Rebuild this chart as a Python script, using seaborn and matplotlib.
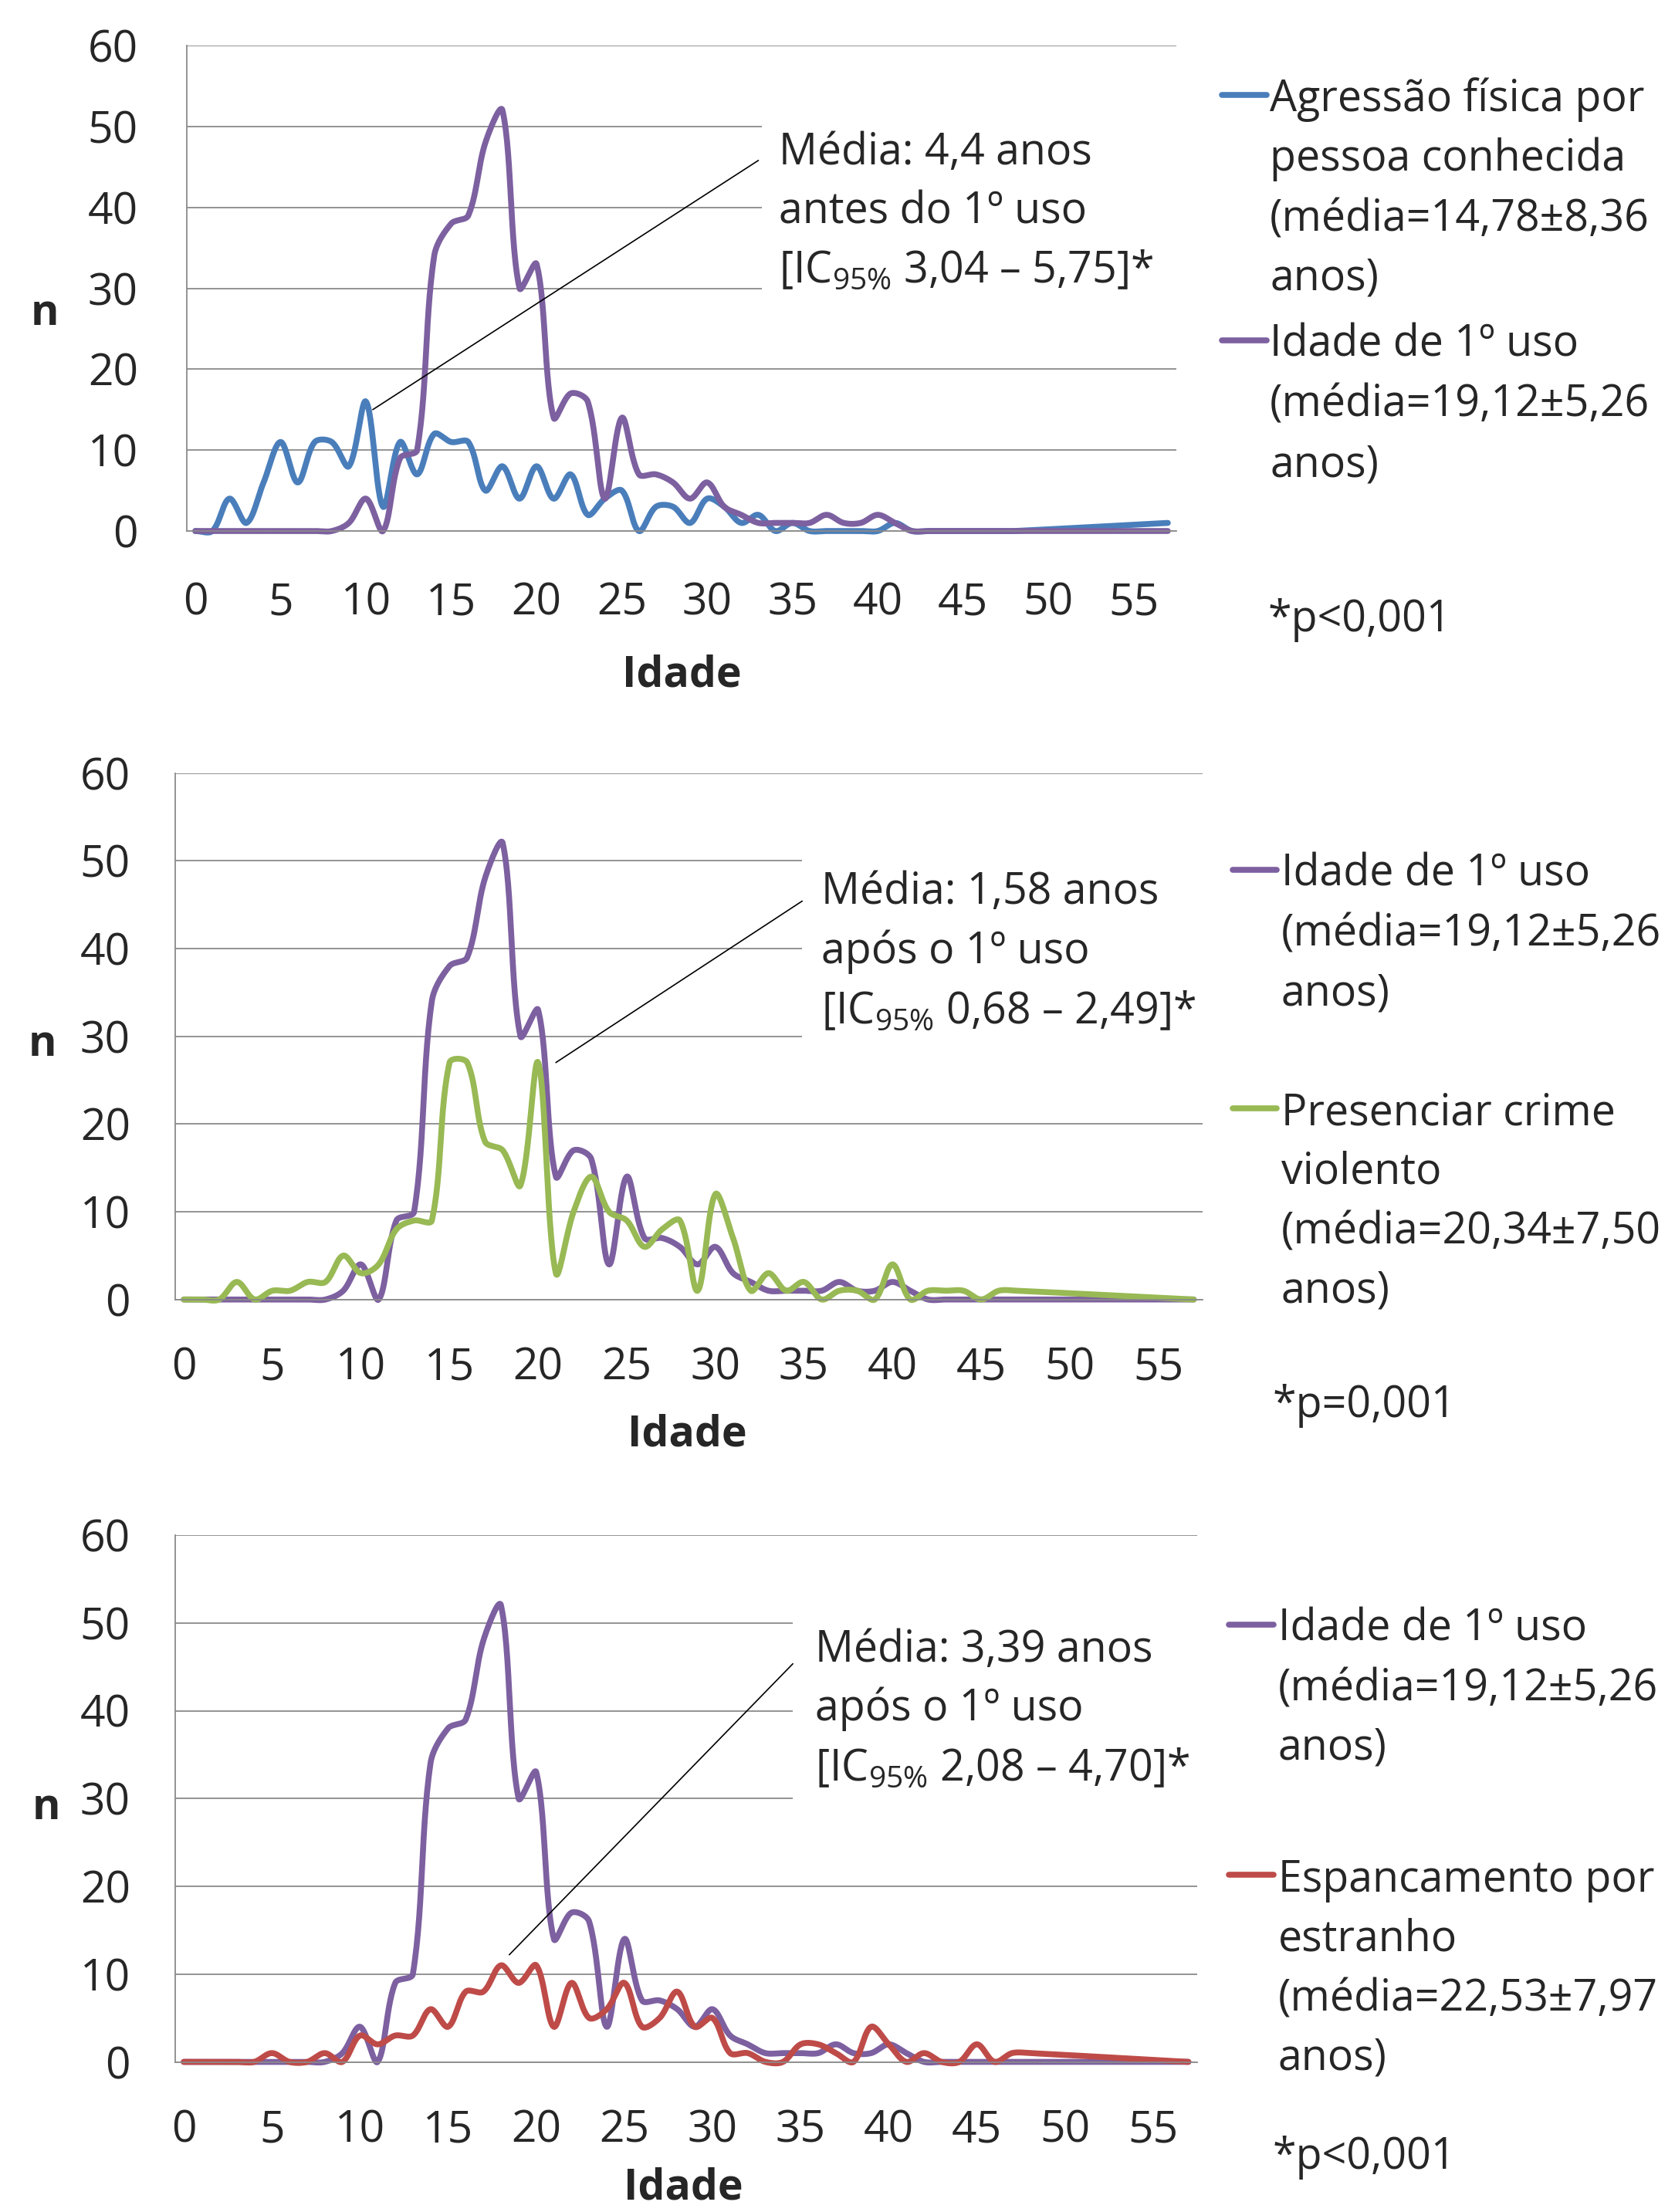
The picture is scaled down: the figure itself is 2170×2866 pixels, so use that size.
import numpy as np
import pandas as pd
import matplotlib
matplotlib.use("Agg")
import matplotlib.pyplot as plt
from matplotlib.lines import Line2D
from matplotlib.patches import Rectangle
import seaborn as sns

nan = np.nan

# ages 0..57 (one category per year)
ages = list(range(58))
tick_ages = list(range(0, 56, 5))
tick_labels = [str(a) for a in tick_ages]
y_ticks = list(range(0, 61, 10))

idade_1o_uso = [0, 0, 0, 0, 0, 0, 0, 0, 0, 1, 4, 0, 9, 10, 34, 38, 39, 48, 52, 30,
                33, 14, 17, 16, 4, 14, 7, 7, 6, 4, 6, 3, 2, 1, 1, 1, 1, 2, 1, 1,
                2, 1, 0, 0, 0, 0, 0, 0, 0, 0, 0, 0, 0, 0, 0, 0, 0, 0]

agressao_conhecida = [0, 0, 4, 1, 6, 11, 6, 11, 11, 8, 16, 3, 11, 7, 12, 11, 11, 5, 8, 4,
                      8, 4, 7, 2, 4, 5, 0, 3, 3, 1, 4, 3, 1, 2, 0, 1, 0, 0, 0, 0,
                      0, 1, 0, 0, 0, 0, 0, 0, 0, nan, nan, nan, nan, nan, nan, nan, nan, 1]

presenciar_crime = [0, 0, 0, 2, 0, 1, 1, 2, 2, 5, 3, 4, 8, 9, 9, 27, 27, 18, 17, 13,
                    27, 3, 10, 14, 10, 9, 6, 8, 9, 1, 12, 7, 1, 3, 1, 2, 0, 1, 1, 0,
                    4, 0, 1, 1, 1, 0, 1, 1, nan, nan, nan, nan, nan, nan, nan, nan, nan, 0]

espancamento_estranho = [0, 0, 0, 0, 0, 1, 0, 0, 1, 0, 3, 2, 3, 3, 6, 4, 8, 8, 11, 9,
                         11, 4, 9, 5, 6, 9, 4, 5, 8, 4, 5, 1, 1, 0, 0, 2, 2, 1, 0, 4,
                         2, 0, 1, 0, 0, 2, 0, 1, 1, nan, nan, nan, nan, nan, nan, nan, nan, 0]

C_BLUE = "#4A7EBB"
C_PURPLE = "#7D60A0"
C_GREEN = "#98B954"
C_RED = "#BE4B48"
C_GRID = "#8A8A8A"

W, H = 2170, 2866
sns.set_style("white")
plt.rcParams["font.family"] = ["Open Sans", "DejaVu Sans"]
plt.rcParams["mathtext.fontset"] = "custom"
plt.rcParams["mathtext.rm"] = "Open Sans"
plt.rcParams["mathtext.it"] = "Open Sans:italic"
plt.rcParams["mathtext.bf"] = "Open Sans:bold"

TXT = 40
TICK = 41
LABEL = 40
LW = 5.5
plt.rcParams["lines.linewidth"] = LW


def excel_smooth(xs, ys, sx=22.5, sy=11.0, n=30):
    """Bezier smoothing close to Excel's 'smoothed line' option."""
    xs = np.asarray(xs, float)
    ys = np.asarray(ys, float)
    keep = ~np.isnan(ys)
    pts = np.column_stack([xs[keep] * sx, ys[keep] * sy])
    t = np.linspace(0, 1, n)[:, None]
    out = []
    for k in range(len(pts) - 1):
        p0 = pts[k - 1] if k > 0 else pts[k]
        p1, p2 = pts[k], pts[k + 1]
        p3 = pts[k + 2] if k + 2 < len(pts) else pts[k + 1]
        d01 = np.linalg.norm(p1 - p0)
        d12 = np.linalg.norm(p2 - p1)
        d23 = np.linalg.norm(p3 - p2)
        w1 = 2 * d12 / (d01 + d12) if d01 + d12 > 0 else 1
        w2 = 2 * d12 / (d12 + d23) if d12 + d23 > 0 else 1
        c1 = p1 + w1 * (p2 - p0) / 6
        c2 = p2 - w2 * (p3 - p1) / 6
        seg = ((1 - t) ** 3) * p1 + 3 * ((1 - t) ** 2) * t * c1 + 3 * (1 - t) * t ** 2 * c2 + t ** 3 * p2
        out.append(seg if k == 0 else seg[1:])
    out = np.vstack(out)
    return pd.DataFrame({"x": out[:, 0] / sx, "y": out[:, 1] / sy})


def fx(x):
    return x / W


def fy(y):
    return 1 - y / H


fig = plt.figure(figsize=(W / 100, H / 100), dpi=100)


def make_panel(rect, series, ypad, xpad, box_x0, leader):
    ax = fig.add_axes(rect)
    ax.set_xlim(0, 58)
    ax.set_ylim(0, 60)
    ax.set_axisbelow(True)
    ax.yaxis.grid(True, color=C_GRID, lw=1.3)
    ax.xaxis.grid(False)
    for s in ["top", "right"]:
        ax.spines[s].set_visible(False)
    for s in ["left", "bottom"]:
        ax.spines[s].set_color(C_GRID)
        ax.spines[s].set_linewidth(1.3)
    ax.set_yticks(y_ticks)
    ax.set_yticklabels([str(v) for v in y_ticks])
    ax.set_xticks(tick_ages)
    ax.set_xticklabels([])
    ax.set_xticks([a + 0.5 for a in tick_ages], minor=True)
    ax.set_xticklabels(tick_labels, minor=True)
    ax.tick_params(axis="y", which="major", length=15.5, width=1.3, color=C_GRID,
                   labelsize=TICK, pad=ypad)
    ax.tick_params(axis="x", which="major", length=15, width=1.3, color=C_GRID)
    ax.tick_params(axis="x", which="minor", length=0, labelsize=TICK, pad=xpad)

    # white box behind the annotation text
    ax.add_patch(Rectangle((box_x0, 22), 58 - box_x0, 34, facecolor="white",
                           edgecolor="none", zorder=1))

    for vals, color in series:
        df = excel_smooth(np.array(ages) + 0.5, vals)
        sns.lineplot(data=df, x="x", y="y", ax=ax, color=color, linewidth=LW, sort=False,
                     estimator=None, solid_capstyle="round", solid_joinstyle="round",
                     zorder=2, clip_on=False)
    ax.set_xlabel("")
    ax.set_ylabel("")
    (x0, y0), (x1, y1) = leader
    ax.plot([x0, x1], [y0, y1], color="black", lw=1.2, zorder=3)
    return ax


def text_lines(x, baselines, lines, **kw):
    for yb, s in zip(baselines, lines):
        fig.text(fx(x), fy(yb), s, ha="left", va="baseline", fontsize=TXT, **kw)


def legend_entry(x0, x1, y, color):
    fig.add_artist(Line2D([fx(x0), fx(x1)], [fy(y), fy(y)], color=color, lw=LW,
                          solid_capstyle="round", transform=fig.transFigure))


def axis_titles(n_xy, idade_xy):
    fig.text(fx(n_xy[0]), fy(n_xy[1]), "n", ha="center", va="baseline",
             fontsize=LABEL, fontweight="bold")
    fig.text(fx(idade_xy[0]), fy(idade_xy[1]), "Idade", ha="center", va="baseline",
             fontsize=LABEL, fontweight="bold")


# ---------------- panel 1 ----------------
make_panel([242 / W, fy(688), (1524 - 242) / W, (688 - 59) / H],
           [(agressao_conhecida, C_BLUE), (idade_1o_uso, C_PURPLE)],
           ypad=30, xpad=47, box_x0=33.7,
           leader=((10.9, 15.0), (33.5, 45.8)))
text_lines(1009, [213, 290, 366],
           ["Média: 4,4 anos", "antes do 1º uso", r"[IC$_{\mathrm{95\%}}$ 3,04 – 5,75]*"])
legend_entry(1583, 1641, 123, C_BLUE)
legend_entry(1583, 1641, 441, C_PURPLE)
text_lines(1645, [144, 221, 299, 376, 462, 540, 617],
           ["Agressão física por", "pessoa conhecida", "(média=14,78±8,36", "anos)",
            "Idade de 1º uso", "(média=19,12±5,26", "anos)"])
text_lines(1643, [818], ["*p<0,001"])
axis_titles((58, 421), (883, 890))

# ---------------- panel 2 ----------------
make_panel([226.6 / W, fy(1683.7), (1558 - 226.6) / W, (1683.7 - 1001.5) / H],
           [(idade_1o_uso, C_PURPLE), (presenciar_crime, C_GREEN)],
           ypad=26, xpad=44, box_x0=35.4,
           leader=((21.5, 27.0), (35.4, 45.4)))
text_lines(1064, [1171, 1248, 1326],
           ["Média: 1,58 anos", "após o 1º uso", r"[IC$_{\mathrm{95\%}}$ 0,68 – 2,49]*"])
legend_entry(1597, 1654, 1127, C_PURPLE)
legend_entry(1597, 1654, 1436, C_GREEN)
text_lines(1660, [1148, 1225, 1302, 1457, 1534, 1611, 1688],
           ["Idade de 1º uso", "(média=19,12±5,26", "anos)",
            "Presenciar crime", "violento", "(média=20,34±7,50", "anos)"])
text_lines(1649, [1836], ["*p=0,001"])
axis_titles((55, 1368), (890, 1874))

# ---------------- panel 3 ----------------
make_panel([226.6 / W, fy(2671.5), (1551 - 226.6) / W, (2671.5 - 1989) / H],
           [(idade_1o_uso, C_PURPLE), (espancamento_estranho, C_RED)],
           ypad=26, xpad=44, box_x0=35.06,
           leader=((18.97, 12.2), (35.06, 45.35)))
text_lines(1056, [2153, 2229, 2307],
           ["Média: 3,39 anos", "após o 1º uso", r"[IC$_{\mathrm{95\%}}$ 2,08 – 4,70]*"])
legend_entry(1592, 1650, 2105, C_PURPLE)
legend_entry(1592, 1650, 2429, C_RED)
text_lines(1656, [2126, 2203, 2280, 2451, 2528, 2605, 2682],
           ["Idade de 1º uso", "(média=19,12±5,26", "anos)",
            "Espancamento por", "estranho", "(média=22,53±7,97", "anos)"])
text_lines(1649, [2810], ["*p<0,001"])
axis_titles((60, 2357), (885, 2850))

fig.savefig("out.png", dpi=100, facecolor="white")
